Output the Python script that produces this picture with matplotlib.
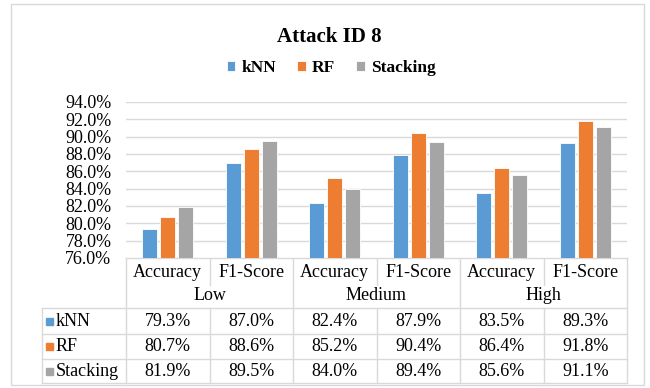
import numpy as np
import matplotlib
matplotlib.use('Agg')
import matplotlib.pyplot as plt
from matplotlib.patches import Rectangle

plt.rcParams['font.family'] = ['Liberation Serif', 'DejaVu Serif']

# Data
metrics = ['Accuracy', 'F1-Score', 'Accuracy', 'F1-Score', 'Accuracy', 'F1-Score']
levels = ['Low', 'Medium', 'High']
models = ['kNN', 'RF', 'Stacking']
knn = [79.3, 87.0, 82.4, 87.9, 83.5, 89.3]
rf = [80.7, 88.6, 85.2, 90.4, 86.4, 91.8]
stacking = [81.9, 89.5, 84.0, 89.4, 85.6, 91.1]
colors = ['#5B9BD5', '#ED7D31', '#A5A5A5']
yticks = [76, 78, 80, 82, 84, 86, 88, 90, 92, 94]

W, H = 650, 388
grid_c = '#D9D9D9'
fs = 13

fig = plt.figure(figsize=(W / 100, H / 100), dpi=100)

# plot area in pixels
left, right, top, bottom = 126, 627, 102, 258
ax = fig.add_axes([left / W, 1 - bottom / H, (right - left) / W, (bottom - top) / H])

x = np.arange(len(metrics))
width = 0.18
offsets = [-0.215, 0, 0.215]
series = [knn, rf, stacking]
for vals, off, c, name in zip(series, offsets, colors, models):
    ax.bar(x + off, vals, width, color=c, edgecolor='white', linewidth=0.6,
           label=name, zorder=3)

ax.set_xlim(-0.5, len(metrics) - 0.5)
ax.set_ylim(76, 94)
ax.set_yticks(yticks)
ax.set_yticklabels([f'{v:.1f}%' for v in yticks], fontsize=fs)
ax.tick_params(axis='y', length=0, pad=10.5)
ax.set_xticks([])
ax.grid(axis='y', color=grid_c, linewidth=1, zorder=0)
for s in ['top', 'right', 'left', 'bottom']:
    ax.spines[s].set_visible(False)

# overlay in pixel coordinates for table, border, title
ov = fig.add_axes([0, 0, 1, 1], zorder=-1)
ov.set_xlim(0, W)
ov.set_ylim(H, 0)
ov.axis('off')
ov.patch.set_alpha(0)

ov.add_patch(Rectangle((11, 4), 633, 381, fill=False, edgecolor=grid_c, linewidth=1))

fig.text(0.5 + 4 / W, 1 - 37 / H, 'Attack ID 8', ha='center', va='center',
         fontsize=15, fontweight='bold')
fig.legend(loc='center', bbox_to_anchor=(0.5 + 6 / W, 1 - 68 / H), ncol=3, frameon=False,
           prop={'weight': 'bold', 'size': 12.5}, handlelength=0.5, handleheight=0.5,
           handletextpad=0.35, columnspacing=1.2)

col_w = (right - left) / len(metrics)
cols = [left + i * col_w for i in range(len(metrics) + 1)]
row_mid, row_lvl = 285, 308
data_rows = [308, 334, 359, 383]
tab_left = 42

lw = 1
# category header lines
ov.plot([left, right], [bottom, bottom], color=grid_c, lw=lw)
for i, cx in enumerate(cols):
    if i % 2 == 0:
        ov.plot([cx, cx], [bottom, data_rows[-1]], color=grid_c, lw=lw)
    else:
        ov.plot([cx, cx], [bottom, row_mid], color=grid_c, lw=lw)
        ov.plot([cx, cx], [data_rows[0], data_rows[-1]], color=grid_c, lw=lw)
for ry in data_rows:
    ov.plot([tab_left, right], [ry, ry], color=grid_c, lw=lw)
ov.plot([tab_left, tab_left], [data_rows[0], data_rows[-1]], color=grid_c, lw=lw)

for i, m in enumerate(metrics):
    ov.text((cols[i] + cols[i + 1]) / 2, (bottom + row_mid) / 2 + 1, m,
            ha='center', va='center', fontsize=fs)
for j, lv in enumerate(levels):
    ov.text((cols[2 * j] + cols[2 * j + 2]) / 2, (row_mid + row_lvl) / 2 - 1, lv,
            ha='center', va='center', fontsize=fs)

for r, (name, vals, c) in enumerate(zip(models, series, colors)):
    yc = (data_rows[r] + data_rows[r + 1]) / 2
    ov.add_patch(Rectangle((46, yc - 3.5), 7, 7, color=c))
    ov.text(56, yc, name, ha='left', va='center', fontsize=fs)
    for i, v in enumerate(vals):
        ov.text((cols[i] + cols[i + 1]) / 2, yc, f'{v:.1f}%',
                ha='center', va='center', fontsize=fs)

fig.savefig('out.png', dpi=100)
